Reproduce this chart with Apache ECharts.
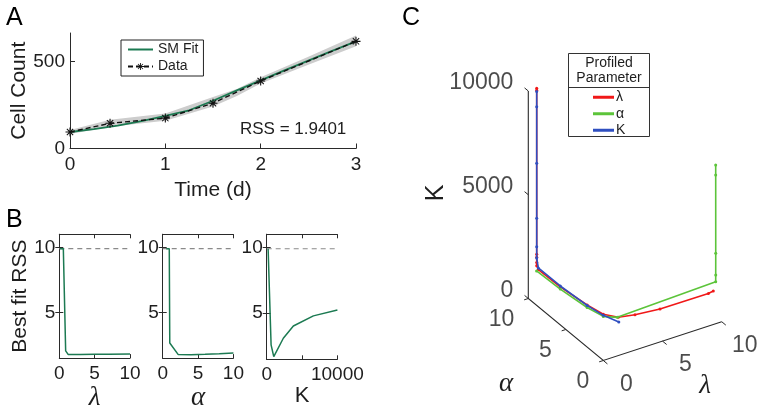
<!DOCTYPE html>
<html>
<head>
<meta charset="utf-8">
<script src="https://cdn.jsdelivr.net/npm/echarts@6/dist/echarts.min.js"></script>
<style>
html,body{margin:0;padding:0;background:#fff;}
#chart{width:761px;height:412px;}
</style>
</head>
<body>
<div id="chart"></div>
<script>
// ---------- Panel A data ----------
const dataT = [0, 0.42, 1, 1.5, 2, 3];
const dataCount = [95, 145, 175, 261, 389, 617];
const fitT = [0, 0.25, 0.5, 0.75, 1, 1.25, 1.5, 1.75, 2, 2.25, 2.5, 2.75, 3];
const fitCount = [95, 112, 132, 158, 188, 220, 275, 335, 392, 450, 506, 562, 617];
const bandT = [0, 0.42, 1, 1.5, 1.75, 2, 2.5, 3];
const bandLower = [84, 125, 160, 242, 302, 374, 482, 588];
const bandUpper = [106, 165, 202, 296, 343, 410, 528, 650];
const rssText = 'RSS = 1.9401';
const aXTicks = [0, 1, 2, 3];
const aYTicks = [0, 500];

// ---------- Panel B data ----------
const profLam = [0.1, 0.57, 0.9, 1.27, 3, 5, 7, 10];
const rssLam = [9.9, 9.9, 2.05, 1.77, 1.78, 1.79, 1.8, 1.82];
const profAlpha = [0.5, 0.93, 1.0, 2.2, 4, 6, 8, 10];
const rssAlpha = [9.9, 9.9, 2.66, 1.77, 1.76, 1.79, 1.84, 1.9];
const profK = [200, 470, 620, 1000, 2350, 3770, 6600, 10000];
const rssK = [9.9, 9.9, 2.6, 1.7, 3.1, 4.03, 4.8, 5.25];
const rssThreshold = 9.9;
const bYTicks = [5, 10];
const bXTicksSmall = [0, 5, 10];
const bXTicksK = [0, 5000, 10000];
const bXLabelsK = [0, 10000];

// ---------- Panel C data (lambda, alpha, K) ----------
const redLam   = [0.71, 0.71, 0.71, 0.71, 0.71, 0.71, 0.72, 0.8, 0.85, 0.95, 1.4, 2.8, 5, 9.5, 10];
const redAlpha = [10, 10, 10, 10, 10, 10, 9.8, 7, 3.5, 1.5, 0.21, 0.2, 0.33, 0.99, 1.12];
const redK     = [10000, 9900, 2000, 1850, 1600, 1450, 1320, 1310, 1470, 1600, 1760, 1620, 1450, 1160, 1145];
const greenLam   = [0.7, 0.8, 0.85, 0.95, 1.5, 9.62, 9.59, 9.56, 9.525, 9.506];
const greenAlpha = [10, 7, 3.5, 1.5, 0.5, 0.2, 0.15, 0.1, 0.05, 0.02];
const greenK     = [1200, 1200, 1350, 1500, 1650, 1940, 2280, 3350, 7140, 7640];
const blueLam   = [0.71, 0.71, 0.71, 0.71, 0.71, 0.71, 0.72, 0.8, 0.85, 0.95, 1.5];
const blueAlpha = [10, 10, 10, 10, 10, 10, 9.8, 7, 3.5, 1.5, 0.3];
const blueK     = [9840, 9110, 6380, 3730, 2360, 1820, 1400, 1350, 1450, 1550, 1490];
const cKTicks = [0, 5000, 10000];
const cATicks = [0, 5, 10];
const cLTicks = [0, 5, 10];

// ---------- 3D view (oblique projection onto the panel-C plane) ----------
const VIEW = {ox: 603.3, oy: 360.5, lx: 11.84, ly: -3.88, ax: -7.5, ay: -6.2, kx: 0, ky: -0.02075};
function proj(l, a, k) {
  return [VIEW.ox + VIEW.lx * l + VIEW.ax * a + VIEW.kx * k,
          VIEW.oy + VIEW.ly * l + VIEW.ay * a + VIEW.ky * k];
}
function curve(L, A, K) { return L.map((l, i) => proj(l, A[i], K[i])); }

const FONT = 'Liberation Sans';
const INK = '#1e1e1e';
const AXC = '#2a2a2a';
const GREEN = '#1c7a52';
const ASTERISK = 'path://M-0.6,-5 L0.6,-5 L0.6,5 L-0.6,5 Z M-5,-0.6 L5,-0.6 L5,0.6 L-5,0.6 Z M-3.1,-3.9 L3.9,3.1 L3.1,3.9 L-3.9,-3.1 Z M3.1,-3.9 L3.9,-3.1 L-3.1,3.9 L-3.9,3.1 Z';
const plain = v => String(v);

const zip = (xs, ys) => xs.map((x, i) => [x, ys[i]]);

function baseAxis(extra) {
  return Object.assign({
    type: 'value',
    axisLine: {show: true, lineStyle: {color: AXC, width: 1}},
    axisTick: {show: true, inside: true, length: 4, lineStyle: {color: AXC}},
    axisLabel: {color: INK, fontSize: 19, fontFamily: FONT, formatter: plain},
    splitLine: {show: false}
  }, extra);
}

function bPanelAxes(gi, min, max, ticks, labels, name, nameStyle) {
  const bottom = baseAxis({gridIndex: gi, min: min, max: max, position: 'bottom',
    axisTick: {show: true, inside: true, length: 4, lineStyle: {color: AXC}, customValues: ticks},
    axisLabel: {color: INK, fontSize: 19, fontFamily: FONT, margin: 6, customValues: labels, formatter: plain},
    name: name, nameLocation: 'middle', nameGap: 22, nameTextStyle: nameStyle});
  const top = baseAxis({gridIndex: gi, min: min, max: max, position: 'top',
    axisTick: {show: true, inside: true, length: 4, lineStyle: {color: AXC}, customValues: ticks},
    axisLabel: {show: false}});
  return [bottom, top];
}
function bPanelYAxes(gi, withName) {
  const left = baseAxis({gridIndex: gi, min: 1.5, max: 11, position: 'left',
    axisTick: {show: true, inside: true, length: 4, lineStyle: {color: AXC}, customValues: bYTicks},
    axisLabel: {color: INK, fontSize: 19, fontFamily: FONT, margin: 4, customValues: bYTicks, formatter: plain}});
  if (withName) {
    left.name = 'Best fit RSS'; left.nameLocation = 'middle'; left.nameGap = 28;
    left.nameTextStyle = {fontSize: 21, fontFamily: FONT, color: INK};
  }
  const right = baseAxis({gridIndex: gi, min: 1.5, max: 11, position: 'right',
    axisTick: {show: true, inside: true, length: 4, lineStyle: {color: AXC}, customValues: bYTicks},
    axisLabel: {show: false}});
  return [left, right];
}

const greekStyle = {fontSize: 27, fontFamily: 'Liberation Serif', fontStyle: 'italic', color: INK};
const xB1 = bPanelAxes(1, 0, 10, bXTicksSmall, bXTicksSmall, 'λ', greekStyle);
const xB2 = bPanelAxes(2, 0, 10, bXTicksSmall, bXTicksSmall, 'α', greekStyle);
const xB3 = bPanelAxes(3, 0, 10000, bXTicksK, bXLabelsK, 'K', {fontSize: 22, fontFamily: FONT, color: INK});
const yB1 = bPanelYAxes(1, true), yB2 = bPanelYAxes(2, false), yB3 = bPanelYAxes(3, false);

const xAxes = [
  baseAxis({gridIndex: 0, min: 0, max: 3, position: 'bottom',
    axisTick: {show: true, inside: true, length: 5, lineStyle: {color: AXC}, customValues: aXTicks},
    axisLabel: {color: INK, fontSize: 19, fontFamily: FONT, margin: 7, customValues: aXTicks, formatter: plain},
    name: 'Time (d)', nameLocation: 'middle', nameGap: 31,
    nameTextStyle: {fontSize: 21, fontFamily: FONT, color: INK}}),
  xB1[0], xB1[1], xB2[0], xB2[1], xB3[0], xB3[1],
  {type: 'value', gridIndex: 4, min: 0, max: 761, show: false}
];
const yAxes = [
  baseAxis({gridIndex: 0, min: 0, max: 665, position: 'left',
    axisTick: {show: true, inside: true, length: 5, lineStyle: {color: AXC}, customValues: aYTicks},
    axisLabel: {color: INK, fontSize: 19, fontFamily: FONT, margin: 5, customValues: aYTicks, formatter: plain},
    name: 'Cell Count', nameLocation: 'middle', nameGap: 40,
    nameTextStyle: {fontSize: 21, fontFamily: FONT, color: INK}}),
  yB1[0], yB1[1], yB2[0], yB2[1], yB3[0], yB3[1],
  {type: 'value', gridIndex: 4, min: 0, max: 412, inverse: true, show: false}
];

function bSeries(xi, xs, ys, xmax) {
  return [
    {type: 'line', xAxisIndex: xi, yAxisIndex: xi, data: [[0, rssThreshold], [xmax, rssThreshold]],
     symbol: 'none', lineStyle: {color: '#8a8a8a', width: 1.2, type: [5, 4]}, silent: true, z: 2},
    {type: 'line', xAxisIndex: xi, yAxisIndex: xi, data: zip(xs, ys), symbol: 'none',
     lineStyle: {color: GREEN, width: 1.5}, silent: true, z: 3}
  ];
}

const kTickLines = cKTicks.map(k => ({coords: [proj(0, 10, k), proj(0, 10.5, k)]}));
const aTickLines = cATicks.map(a => ({coords: [proj(0, a, 0), proj(-0.35, a, 0)]}));
const lTickLines = cLTicks.map(l => ({coords: [proj(l, 0, 0), proj(l, -0.55, 0)]}));

function tickLabelSeries(items, pos, align) {
  return {type: 'scatter', xAxisIndex: 7, yAxisIndex: 7, symbolSize: 0, silent: true,
    data: items,
    label: {show: true, formatter: '{b}', position: pos, align: align, verticalAlign: 'middle',
      fontSize: 23, fontFamily: FONT, color: INK}};
}

function cCurve(name, color, L, A, K, z) {
  return {name: name, type: 'line', xAxisIndex: 7, yAxisIndex: 7, data: curve(L, A, K),
    symbol: 'circle', symbolSize: 3, itemStyle: {color: color}, lineStyle: {color: color, width: 1.6},
    silent: true, z: z};
}

const option = {
  animation: false,
  backgroundColor: '#ffffff',
  textStyle: {fontFamily: FONT},
  grid: [
    {left: 70, top: 33, width: 286, height: 115.5},
    {left: 59.3, top: 234.3, width: 70.7, height: 125},
    {left: 162.7, top: 234.3, width: 70.7, height: 125},
    {left: 266.7, top: 234.3, width: 70.7, height: 125},
    {left: 0, top: 0, width: 761, height: 412}
  ],
  xAxis: xAxes,
  yAxis: yAxes,
  legend: [
    {data: [{name: 'SM Fit', itemStyle: {opacity: 0}}, {name: 'Data'}], orient: 'vertical', left: 121, top: 40,
     itemWidth: 25, itemHeight: 9, itemGap: 2, padding: [2, 5, 2, 6],
     borderColor: '#222', borderWidth: 1, backgroundColor: '#fff',
     textStyle: {fontSize: 14, fontFamily: FONT, color: INK, lineHeight: 15}, selectedMode: false},
    {data: ['λ', 'α', 'K'], orient: 'vertical', left: 593, top: 90,
     icon: 'rect', itemWidth: 21, itemHeight: 3, itemGap: 2, padding: 0,
     textStyle: {fontSize: 14, fontFamily: FONT, color: INK, lineHeight: 14.5, padding: [0, 0, 0, -3]}, selectedMode: false}
  ],
  graphic: [
    {type: 'text', left: 6, top: 6, style: {text: 'A', fontSize: 25, fontFamily: FONT, fill: '#000'}},
    {type: 'text', left: 6, top: 208, style: {text: 'B', fontSize: 25, fontFamily: FONT, fill: '#000'}},
    {type: 'text', left: 402, top: 6, style: {text: 'C', fontSize: 25, fontFamily: FONT, fill: '#000'}},
    {type: 'text', left: 240, top: 121, style: {text: rssText, fontSize: 17, fontFamily: FONT, fill: INK}},
    {type: 'rect', z: 0, shape: {x: 568.5, y: 53.5, width: 81, height: 83}, style: {fill: '#fff', stroke: '#333', lineWidth: 1}},
    {type: 'line', z: 1, shape: {x1: 568.5, y1: 87.5, x2: 649.5, y2: 87.5}, style: {stroke: '#333', lineWidth: 1}},
    {type: 'text', z: 1, x: 609, y: 55, style: {text: 'Profiled\nParameter', align: 'center', fontSize: 14, lineHeight: 15.5, fontFamily: FONT, fill: INK}},
    {type: 'text', x: 436, y: 193, rotation: Math.PI / 2, style: {text: 'K', align: 'center', verticalAlign: 'middle', fontSize: 25, fontFamily: FONT, fill: INK}},
    {type: 'text', x: 506, y: 384, style: {text: 'α', align: 'center', verticalAlign: 'middle', fontSize: 27, fontFamily: 'Liberation Serif', fontStyle: 'italic', fill: INK}},
    {type: 'text', x: 705, y: 386, style: {text: 'λ', align: 'center', verticalAlign: 'middle', fontSize: 27, fontFamily: 'Liberation Serif', fontStyle: 'italic', fill: INK}}
  ],
  series: [
    // Panel A
    {type: 'custom', xAxisIndex: 0, yAxisIndex: 0, data: [0], silent: true, z: 1,
     renderItem: function (params, api) {
       const pts = [];
       for (let i = 0; i < bandT.length; i++) pts.push(api.coord([bandT[i], bandUpper[i]]));
       for (let i = bandT.length - 1; i >= 0; i--) pts.push(api.coord([bandT[i], bandLower[i]]));
       return {type: 'polygon', shape: {points: pts}, style: {fill: '#cdcdcd'}};
     }},
    {name: 'SM Fit', type: 'line', xAxisIndex: 0, yAxisIndex: 0, data: zip(fitT, fitCount),
     symbol: 'none', itemStyle: {color: GREEN}, lineStyle: {color: GREEN, width: 1.8}, z: 3, silent: true},
    {name: 'Data', type: 'line', xAxisIndex: 0, yAxisIndex: 0, data: zip(dataT, dataCount),
     symbol: ASTERISK, symbolSize: 9, itemStyle: {color: '#111'},
     lineStyle: {color: '#111', width: 1.4, type: [5, 3]}, z: 4, silent: true},
    // Panel B
    ...bSeries(1, profLam, rssLam, 10),
    ...bSeries(3, profAlpha, rssAlpha, 10),
    ...bSeries(5, profK, rssK, 10000),
    // Panel C axes
    {type: 'lines', coordinateSystem: 'cartesian2d', xAxisIndex: 7, yAxisIndex: 7, polyline: true, silent: true,
     data: [{coords: [proj(0, 10, 10000), proj(0, 10, 0), proj(0, 0, 0), proj(10, 0, 0)]}],
     lineStyle: {color: AXC, width: 1.1, opacity: 1}},
    {type: 'lines', coordinateSystem: 'cartesian2d', xAxisIndex: 7, yAxisIndex: 7, silent: true,
     data: kTickLines.concat(aTickLines, lTickLines), lineStyle: {color: AXC, width: 1, opacity: 1}},
    tickLabelSeries(cKTicks.map(k => ({name: String(k), value: proj(0, 10, k)})), [-15, -8], 'right'),
    tickLabelSeries(cATicks.map(a => ({name: String(a), value: proj(0, a, 0)})), [-14, 21], 'right'),
    tickLabelSeries(cLTicks.map(l => ({name: String(l), value: proj(l, 0, 0)})), [23, 24], 'center'),
    // Panel C curves
    cCurve('λ', '#f01818', redLam, redAlpha, redK, 5),
    cCurve('α', '#5cc43a', greenLam, greenAlpha, greenK, 6),
    cCurve('K', '#2f4fc0', blueLam, blueAlpha, blueK, 7)
  ]
};

const chart = echarts.init(document.getElementById('chart'), null, {renderer: 'canvas'});
chart.setOption(option);
</script>
</body>
</html>
